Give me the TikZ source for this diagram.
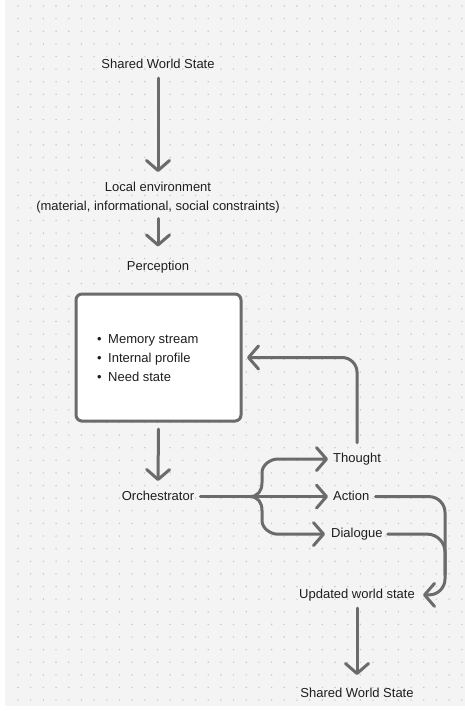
\documentclass[tikz,border=0pt]{standalone}
\usepackage{fontspec}
\setmainfont{Liberation Sans}
\usetikzlibrary{arrows.meta}
\definecolor{bg}{HTML}{F4F4F4}
\definecolor{dotc}{HTML}{C6C6C6}
\definecolor{linec}{HTML}{6B6B6B}
\definecolor{txt}{HTML}{1E1E1E}
\begin{document}
\begin{tikzpicture}[x=1pt,y=-1pt,
 lbl/.style={inner sep=0pt, text=txt, font=\fontsize{13}{19}\selectfont},
 one/.style={lbl, text height=9.5pt, text depth=2.7pt},
 conn/.style={draw=linec, line width=3pt, line cap=round, line join=round},
 arr/.style={conn, -{Straight Barb[length=10pt,width=23pt,round]}},
 card/.style={draw=linec, line width=3pt, fill=white, rounded corners=6pt}]
\useasboundingbox (0,0) rectangle (465,711);
\fill[white] (0,0) rectangle (465,711);
\fill[bg] (5,0) rectangle (465,706);
\foreach \i in {0,...,35} {
  \foreach \j in {0,...,55} {
    \fill[dotc] (18+\i*12.68, 6+\j*12.62) circle (0.8);
  }
}
% nodes
\node[one, anchor=base] (sws1) at (158,69) {Shared World State};
\node[lbl, align=center, anchor=north] (loc) at (158,181.7) {Local environment\\(material, informational, social constraints)};
\node[one, anchor=base] (perc) at (158,270.7) {Perception};
\node[card, minimum width=165pt, minimum height=127pt, inner sep=0pt] (mem) at (158.5,357.5) {};
\node[lbl, align=left, anchor=north west] (list) at (97,334.7) {\makebox[11pt][l]{•}Memory stream\\\makebox[11pt][l]{•}Internal profile\\\makebox[11pt][l]{•}Need state};
\node[one, anchor=base] (orch) at (158,500) {Orchestrator};
\node[one, anchor=base west] (th) at (333,462.5) {Thought};
\node[one, anchor=base west] (ac) at (333,500) {Action};
\node[one, anchor=base west] (dl) at (331,537.5) {Dialogue};
\node[one, anchor=base] (upd) at (357,598.3) {Updated world state};
\node[one, anchor=base] (sws2) at (357,697.7) {Shared World State};
\coordinate (br) at ([xshift=-83pt]ac.west);
% connectors
\draw[arr] ([yshift=-6.3pt]sws1.south) -- ([yshift=9.7pt]loc.north);
\draw[arr] ([yshift=-5.3pt]loc.south) -- ([yshift=14.5pt]perc.north);
\draw[arr] ([yshift=-6.5pt]mem.south) -- ([yshift=19pt]orch.base);
\draw[conn] ([xshift=6pt]orch.east) -- (br);
\draw[arr] (br) -- ([xshift=-5pt]ac.west);
\draw[arr] (br) .. controls ([xshift=8pt]br) and ([xshift=12pt,yshift=6pt]br) .. ([xshift=12pt,yshift=14pt]br)
  -- ([xshift=12pt,yshift=24pt]br) .. controls ([xshift=12pt,yshift=32pt]br) and ([xshift=-62pt]th.west) .. ([xshift=-56pt]th.west)
  -- ([xshift=-5pt]th.west);
\draw[arr] (br) .. controls ([xshift=8pt]br) and ([xshift=12pt,yshift=-6pt]br) .. ([xshift=12pt,yshift=-14pt]br)
  -- ([xshift=12pt,yshift=-24pt]br) .. controls ([xshift=12pt,yshift=-32pt]br) and ([xshift=-60pt]dl.west) .. ([xshift=-54pt]dl.west)
  -- ([xshift=-6pt]dl.west);
\draw[arr, rounded corners=15pt] ([yshift=10pt]th.north) |- ([xshift=4.5pt]mem.east);
\draw[conn, rounded corners=18pt] ([xshift=5pt]dl.east) -| ([xshift=30pt,yshift=20pt]upd.east);
\draw[arr, rounded corners=16pt] ([xshift=6pt]ac.east) -| ([xshift=30pt]upd.east) -- ([xshift=8pt]upd.east);
\draw[arr] ([yshift=-7pt]upd.south) -- ([yshift=13pt]sws2.north);
\end{tikzpicture}
\end{document}
